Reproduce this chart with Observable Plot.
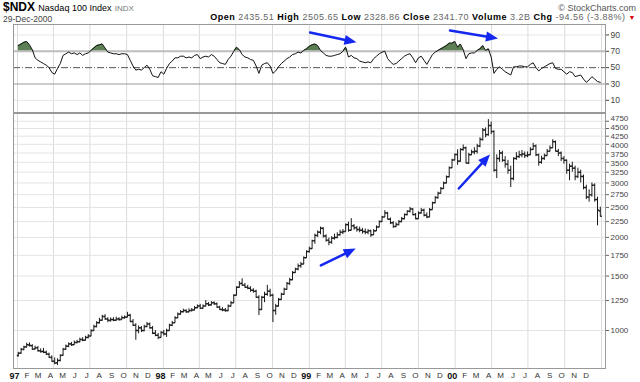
<!DOCTYPE html>
<html><head><meta charset="utf-8">
<script src="https://cdn.jsdelivr.net/npm/d3@7"></script>
<script src="https://cdn.jsdelivr.net/npm/@observablehq/plot@0.6"></script>
<style>
body{margin:0;background:#fff;font-family:"Liberation Sans",Arial,sans-serif;}
#wrap{position:relative;width:640px;height:382px;overflow:hidden;background:#fff;}
.h{position:absolute;white-space:nowrap;line-height:1;}
.v{color:#666;}
</style></head><body>
<div id="wrap">
  <div class="h" style="left:3px;top:1px;font-size:12px;line-height:12px"><b>$NDX</b> <span style="font-size:9px">Nasdaq 100 Index</span> <span style="font-size:8px;color:#777">INDX</span></div>
  <div class="h" style="right:4px;top:4px;font-size:9px;color:#555">© StockCharts.com</div>
  <div class="h" style="left:3px;top:15px;font-size:8.5px;color:#444">29-Dec-2000</div>
  <div class="h" id="stats" style="right:4px;top:13px;font-size:9px;letter-spacing:0.5px"></div>
  <div id="rsiPanel" style="position:absolute;left:0;top:24px"></div>
  <div id="pricePanel" style="position:absolute;left:0;top:112px"></div>
</div>
<script>
// ---------- data (weekly bars, Jan-1997 .. Dec-2000) ----------
const opens = [
830,845,868,885,898,893,872,880,860,856,
850,838,818,795,786,800,832,870,890,905,
900,915,920,935,930,950,960,1000,1030,1060,
1080,1110,1090,1078,1085,1080,1090,1085,1100,1105,
1120,1070,1040,1000,1020,1000,1030,1050,1020,980,
965,950,985,975,1000,1040,1060,1100,1130,1150,
1160,1150,1160,1165,1185,1200,1180,1200,1220,1210,
1230,1220,1190,1170,1165,1160,1200,1230,1300,1380,
1420,1400,1380,1370,1350,1340,1280,1170,1280,1310,
1340,1300,1160,1200,1260,1310,1360,1420,1460,1540,
1580,1620,1640,1720,1800,1840,1950,2030,2080,2140,
2020,1960,1930,1990,2000,2040,2080,2090,2200,2110,
2180,2150,2120,2110,2090,2080,2100,2040,2100,2160,
2250,2330,2400,2290,2230,2170,2200,2250,2300,2370,
2430,2470,2370,2300,2400,2450,2360,2330,2460,2590,
2690,2780,2880,3000,3140,3360,3560,3708,3530,3850,
3900,3480,3700,3780,3800,3950,4150,4450,4300,4600,
4400,3300,3600,3750,3550,3450,3300,3100,3600,3650,
3700,3720,3680,3700,3850,3950,3700,3500,3600,3680,
3800,3900,4080,3800,3750,3600,3550,3300,3400,3350,
3150,3250,3150,2900,2700,2750,2950,2650,2435.51];
const highs = [
850,875,890,910,912,900,890,888,872,875,
858,845,828,815,810,835,875,898,912,915,
925,930,945,948,958,970,1005,1040,1068,1095,
1120,1125,1100,1098,1100,1105,1100,1112,1115,1145,
1128,1085,1052,1035,1030,1040,1062,1058,1030,1000,
978,992,1000,1010,1048,1070,1108,1140,1160,1172,
1168,1175,1178,1195,1210,1215,1210,1250,1232,1240,
1238,1228,1198,1185,1178,1210,1240,1305,1385,1440,
1470,1420,1400,1385,1365,1350,1295,1290,1330,1400,
1360,1310,1215,1270,1320,1370,1430,1475,1550,1590,
1640,1660,1730,1810,1860,1960,2050,2100,2160,2150,
2040,1990,2010,2050,2070,2110,2120,2210,2240,2300,
2200,2170,2160,2140,2130,2120,2110,2120,2180,2260,
2340,2440,2410,2310,2250,2230,2270,2320,2380,2440,
2500,2480,2390,2420,2480,2470,2400,2480,2600,2710,
2800,2900,3020,3160,3380,3580,3720,3840,3870,3980,
3920,3740,3830,3900,4000,4200,4500,4520,4810,4720,
4420,3700,3820,3800,3650,3550,3400,3620,3760,3800,
3820,3780,3780,3900,4030,3980,3720,3660,3720,3850,
3950,4140,4100,3850,3780,3650,3560,3450,3500,3400,
3350,3300,3180,2950,2850,3000,2980,2700,2505.65];
const lows = [
820,838,860,878,885,862,865,852,845,842,
830,812,790,775,770,792,825,862,880,888,
895,905,912,920,925,940,955,992,1020,1050,
1072,1080,1060,1065,1068,1070,1072,1080,1088,1098,
1060,1030,930,975,985,990,1022,1010,970,955,
935,945,960,950,995,1030,1055,1092,1120,1140,
1135,1140,1148,1158,1175,1170,1172,1190,1195,1200,
1205,1180,1160,1150,1145,1150,1190,1225,1295,1370,
1390,1370,1355,1330,1320,1270,1118,1160,1230,1290,
1280,1061,1120,1190,1250,1300,1350,1400,1450,1530,
1560,1590,1630,1710,1780,1830,1900,2000,2040,1990,
1930,1880,1900,1960,1980,2020,2040,2080,2080,2100,
2110,2080,2070,2050,2040,2040,2000,2030,2090,2150,
2240,2320,2280,2200,2140,2150,2180,2230,2280,2350,
2400,2350,2280,2290,2380,2330,2300,2320,2450,2570,
2660,2760,2860,2980,3120,3340,3540,3420,3500,3800,
3460,3440,3680,3700,3720,3900,4100,4200,4250,4300,
3250,3100,3500,3500,3350,3200,2900,3050,3550,3600,
3620,3600,3620,3680,3820,3650,3400,3450,3550,3660,
3780,3880,3780,3650,3520,3450,3200,3050,3250,3050,
3100,3000,2850,2650,2600,2700,2600,2180,2328.86];
const closes = [
845,870,885,900,895,870,880,860,855,850,
840,820,795,785,800,830,870,890,905,900,
915,920,935,930,950,960,1000,1030,1060,1080,
1110,1090,1080,1085,1080,1090,1085,1100,1105,1120,
1070,1040,1000,1020,1000,1030,1050,1020,980,965,
950,985,975,1000,1040,1060,1100,1130,1150,1160,
1150,1160,1165,1185,1200,1180,1200,1220,1210,1230,
1220,1190,1170,1165,1160,1200,1230,1300,1380,1420,
1400,1380,1370,1350,1340,1280,1170,1280,1310,1340,
1300,1160,1200,1260,1310,1360,1420,1460,1540,1580,
1620,1640,1720,1800,1840,1950,2030,2080,2140,2020,
1960,1930,1990,2000,2040,2080,2090,2200,2110,2180,
2150,2120,2110,2090,2080,2100,2040,2100,2160,2250,
2330,2400,2290,2230,2170,2200,2250,2300,2370,2430,
2470,2370,2300,2400,2450,2360,2330,2460,2590,2690,
2780,2880,3000,3140,3360,3560,3708,3530,3850,3900,
3480,3700,3780,3800,3950,4150,4450,4300,4600,4400,
3300,3600,3750,3550,3450,3300,3100,3600,3650,3700,
3720,3680,3700,3850,3950,3700,3500,3600,3680,3800,
3900,4080,3800,3750,3600,3550,3300,3400,3350,3150,
3250,3150,2900,2700,2750,2950,2650,2450,2341.70];
const rsi14 = [
77,79,81,82,78,72,62,59,57,55,
53,50,44,42,49,55,65,67,69,67,
68,66,68,65,67,68,71,74,77,78,
79,74,69,68,67,67,66,67,67,66,
59,52,47,48,47,50,53,48,40,39,
38,45,42,49,55,58,62,62,64,64,
62,63,62,65,66,61,63,64,63,66,
64,60,56,55,54,60,64,70,75,72,
66,63,62,60,59,52,43,53,55,56,
52,43,46,51,55,58,61,63,66,67,
69,68,71,73,76,78,79,77,71,68,
65,64,64,65,66,67,70,75,63,65,
62,61,58,57,56,57,56,61,64,67,
69,70,61,57,54,55,58,61,64,66,
67,62,56,62,64,59,54,60,66,69,
71,73,75,77,80,80,82,75,79,72,
61,67,68,68,71,73,77,71,73,63,
43,48,51,48,45,43,41,51,51,52,
52,51,51,54,56,50,46,49,51,53,
55,56,49,48,48,45,42,45,44,39,
40,41,36,32,35,39,36,33,32];
const priceTicks = [1000,1250,1500,1750,2000,2250,2500,2750,3000,3250,3500,3750,4000,4250,4500,4750];
const rsiTicks = [10,30,50,70,90];
const monthLetters = ["J","F","M","A","M","J","J","A","S","O","N","D"];
const yearLabels = ["97","98","99","00"];
const rsiArrows = [
  {x1:"1999-01-03", y1:93, x2:"1999-04-29", y2:81},
  {x1:"1999-12-19", y1:95.5, x2:"2000-04-17", y2:85.7}
];
const priceArrows = [
  {x1:"1999-01-30", y1:1623, x2:"1999-04-27", y2:1841},
  {x1:"2000-01-10", y1:2879, x2:"2000-03-28", y2:3708}
];
const lastBar = {open:"2435.51", high:"2505.65", low:"2328.86", close:"2341.70", volume:"3.2B", chg:"-94.56 (-3.88%)"};

// ---------- build ----------
const dates = d3.utcFriday.range(new Date(Date.UTC(1997,0,3)), new Date(Date.UTC(2000,11,30)));
const rows = dates.map((date,i)=>({date, open:opens[i], high:highs[i], low:lows[i], close:closes[i], rsi:rsi14[i]}));
const xDomain = [new Date(Date.UTC(1996,11,22)), new Date(Date.UTC(2001,0,11))];
const quarters = d3.utcMonth.every(3).range(new Date(Date.UTC(1997,0,1)), new Date(Date.UTC(2001,0,2)));
const months = d3.utcMonth.range(new Date(Date.UTC(1997,0,1)), new Date(Date.UTC(2001,0,1)));
const monthRows = months.filter(d=>d.getUTCMonth()!==0).map(d=>({date:d, label:monthLetters[d.getUTCMonth()]}));
const yearRows = months.filter(d=>d.getUTCMonth()===0).map((d,i)=>({date:d, label:yearLabels[i]}));

const W = 640, ML = 13, MR = 35;
const blue = "#1428f0";
const font = "Liberation Sans, Arial, sans-serif";
const openTick = {draw(c){c.moveTo(-1.5,0);c.lineTo(0,0);}};
const closeTick = {draw(c){c.moveTo(0,0);c.lineTo(1.5,0);}};
const head = {draw(c){c.moveTo(0,0);c.lineTo(-12,-5);c.lineTo(-12,5);c.closePath();}};
// small vertical nudges so the crowded top labels stay readable
const labelNudge = {4750:-3, 4500:-1.5, 4000:1, 3750:1.5, 3500:1, 3250:0.5};

function withAngles(arr, xs, ys){
  return arr.map(a=>{
    const o = {x1:new Date(a.x1), y1:a.y1, x2:new Date(a.x2), y2:a.y2};
    const dx = xs.apply(o.x2)-xs.apply(o.x1), dy = ys.apply(o.y2)-ys.apply(o.y1);
    o.angle = Math.atan2(dy,dx)*180/Math.PI;
    return o;
  });
}

// RSI panel
const rH = 89;
const rY = {domain:[-4.9,102.8], range:[rH-1, 0]};
const rsiA = withAngles(rsiArrows, Plot.scale({x:{type:"utc",domain:xDomain,range:[ML,W-MR]}}), Plot.scale({y:{type:"linear",...rY}}));
const rsiPlot = Plot.plot({
  width:W, height:rH, marginLeft:ML, marginRight:MR, marginTop:0, marginBottom:1,
  style:{fontFamily:font, fontSize:"9px", background:"transparent"},
  x:{type:"utc", domain:xDomain, axis:null},
  y:{domain:rY.domain},
  marks:[
    Plot.ruleX(quarters,{stroke:"#dcdcdc"}),
    Plot.ruleY([10,90],{stroke:"#e6e6e6"}),
    Plot.areaY(rows,{x:"date", y1:70, y2:d=>Math.max(70,d.rsi), fill:"#5c7f54"}),
    Plot.ruleY([70],{stroke:"#bdbdbd", strokeWidth:2}),
    Plot.ruleY([30],{stroke:"#999", strokeWidth:1.2}),
    Plot.ruleY([50],{stroke:"#555", strokeDasharray:"7,2,1,2"}),
    Plot.lineY(rows,{x:"date", y:"rsi", stroke:"#111", strokeWidth:1}),
    Plot.axisY(rsiTicks,{anchor:"right", tickSize:3, tickPadding:2, fontSize:8.5, color:"#444", label:null}),
    Plot.frame({stroke:"#999"}),
    Plot.arrow(rsiA,{x1:"x1",y1:"y1",x2:"x2",y2:"y2",stroke:blue,strokeWidth:2.5,headLength:0,insetEnd:9}),
    Plot.dot(rsiA,{x:"x2",y:"y2",symbol:head,fill:blue,stroke:"none",rotate:"angle",r:5})
  ]
});
document.getElementById("rsiPanel").append(rsiPlot);

// Price panel
const pH = 270, pMT = 1, pMB = 14;
const pY = {type:"log", domain:[753.6,5032], range:[pH-pMB, pMT]};
const priceA = withAngles(priceArrows, Plot.scale({x:{type:"utc",domain:xDomain,range:[ML,W-MR]}}), Plot.scale({y:pY}));
const priceLabelMarks = priceTicks.map(t => Plot.text([t], {
  y: d=>d, text: d=>String(d), frameAnchor:"right", textAnchor:"start", dx:5,
  dy: labelNudge[t] || 0, fontSize:8, fill:"#444"
}));
const pricePlot = Plot.plot({
  width:W, height:pH, marginLeft:ML, marginRight:MR, marginTop:pMT, marginBottom:pMB,
  style:{fontFamily:font, fontSize:"9px", background:"transparent"},
  x:{type:"utc", domain:xDomain, axis:null},
  y:{type:"log", domain:pY.domain},
  marks:[
    Plot.ruleX(quarters,{stroke:"#dcdcdc"}),
    Plot.ruleY(priceTicks,{stroke:"#e3e3e3"}),
    Plot.ruleX(rows,{x:"date", y1:"low", y2:"high", stroke:"#1a1a1a", strokeWidth:1}),
    Plot.dot(rows,{x:"date", y:"open", symbol:openTick, stroke:"#1a1a1a", fill:"none", r:1}),
    Plot.dot(rows,{x:"date", y:"close", symbol:closeTick, stroke:"#1a1a1a", fill:"none", r:1}),
    Plot.axisY(priceTicks,{anchor:"right", tickSize:3, tickFormat:()=>"", label:null, color:"#666"}),
    ...priceLabelMarks,
    Plot.text(monthRows,{x:"date", text:"label", frameAnchor:"bottom", lineAnchor:"top", dy:4, dx:-3, fontSize:8, fill:"#333"}),
    Plot.text(yearRows,{x:"date", text:"label", frameAnchor:"bottom", lineAnchor:"top", dy:4, dx:-3, fontSize:9, fontWeight:"bold", fill:"#111"}),
    Plot.frame({stroke:"#999"}),
    Plot.arrow(priceA,{x1:"x1",y1:"y1",x2:"x2",y2:"y2",stroke:blue,strokeWidth:2.5,headLength:0,insetEnd:9}),
    Plot.dot(priceA,{x:"x2",y:"y2",symbol:head,fill:blue,stroke:"none",rotate:"angle",r:5})
  ]
});
document.getElementById("pricePanel").append(pricePlot);

document.getElementById("stats").innerHTML =
  `<b>Open</b> <span class="v">${lastBar.open}</span> <b>High</b> <span class="v">${lastBar.high}</span> ` +
  `<b>Low</b> <span class="v">${lastBar.low}</span> <b>Close</b> <span class="v">${lastBar.close}</span> ` +
  `<b>Volume</b> <span class="v">${lastBar.volume}</span> <b>Chg</b> <span class="v">${lastBar.chg}</span> ` +
  `<span style="color:#d00;font-size:7px">▼</span>`;
</script>
</body></html>
